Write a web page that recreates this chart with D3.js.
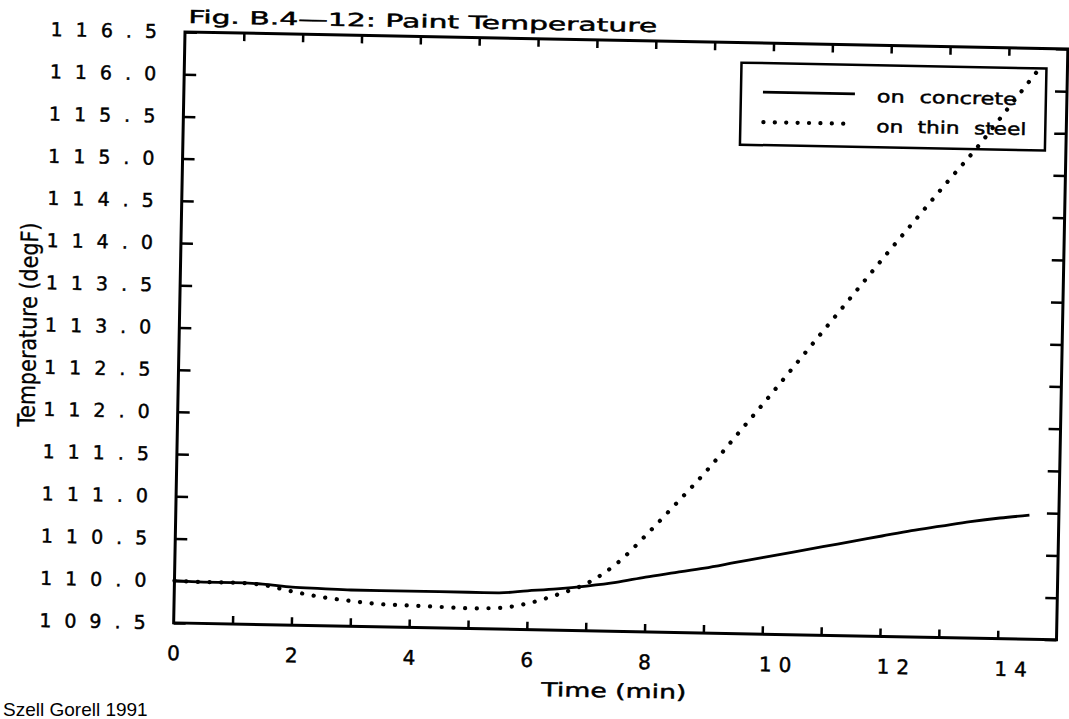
<!DOCTYPE html>
<html>
<head>
<meta charset="utf-8">
<script src="https://cdn.jsdelivr.net/npm/d3@7"></script>
<style>
    body { margin: 0; background: #fff; }
    svg { display: block; }
    text { font-family: "DejaVu Sans", sans-serif; fill: #000; }
    .plot-text { stroke: #000; stroke-width: 0.45px; }
</style>
</head>
<body>
<div id="chart"></div>
<script>

// Time in minutes, shared by both series
const timeMin = [0, 0.5, 1, 1.5, 2, 2.5, 3, 3.5, 4, 4.5, 5, 5.5, 6, 6.5, 7, 7.5,
    8, 8.5, 9, 9.5, 10, 10.5, 11, 11.5, 12, 12.5, 13, 13.5, 14, 14.5];

// Paint temperature on concrete (degF)
const concreteTemp = [110.00, 109.99, 109.99, 109.98, 109.95, 109.94, 109.93, 109.93, 109.93, 109.93,
    109.93, 109.93, 109.96, 109.99, 110.03, 110.08, 110.15, 110.21, 110.27, 110.34,
    110.41, 110.48, 110.55, 110.62, 110.69, 110.76, 110.82, 110.88, 110.93, 110.97];

// Paint temperature on thin steel (degF)
const steelTemp = [110.00, 109.99, 109.99, 109.97, 109.90, 109.84, 109.80, 109.77, 109.76, 109.75,
    109.74, 109.75, 109.81, 109.92, 110.06, 110.30, 110.65, 111.03, 111.42, 111.85,
    112.28, 112.72, 113.16, 113.60, 114.04, 114.47, 114.90, 115.32, 115.78, 116.24];

const yTicks = [109.5, 110.0, 110.5, 111.0, 111.5, 112.0, 112.5, 113.0, 113.5, 114.0, 114.5, 115.0, 115.5, 116.0, 116.5];
const xTicks = [0, 2, 4, 6, 8, 10, 12, 14];
const xMinorTicks = [1, 2, 3, 4, 5, 6, 7, 8, 9, 10, 11, 12, 13, 14];

const seriesNames = ["on concrete", "on thin steel"];

// the scan is a little tilted, so the whole plot is rotated a bit
const tilt = 1.1;
const margin = { top: 32, left: 185 };
const width = 883, height = 591;

const svg = d3.select("#chart").append("svg")
    .attr("width", 1069)
    .attr("height", 719);

const g = svg.append("g")
    .attr("transform", "translate(" + margin.left + "," + margin.top + ") rotate(" + tilt + ")");

// Scales
const x = d3.scaleLinear().domain([0, 15]).range([0, width]);
const y = d3.scaleLinear().domain([109.5, 116.5]).range([height, 0]);

// Lines
const line = d3.line()
    .x(d => x(d.t))
    .y(d => y(d.v))
    .curve(d3.curveMonotoneX);

const concreteData = timeMin.map((t, i) => ({ t: t, v: concreteTemp[i] }));
const steelData = timeMin.map((t, i) => ({ t: t, v: steelTemp[i] }));

g.append("path")
    .datum(steelData)
    .attr("fill", "none")
    .attr("stroke", "#000")
    .attr("stroke-width", 4.2)
    .attr("stroke-linecap", "round")
    .attr("stroke-dasharray", "0.1 11.6")
    .attr("d", line);

g.append("path")
    .datum(concreteData)
    .attr("fill", "none")
    .attr("stroke", "#000")
    .attr("stroke-width", 2.8)
    .attr("d", line);

// Axes (ticks point inward on all four sides)
const leftAxis = g.append("g")
    .call(d3.axisLeft(y).tickValues(yTicks).tickSizeInner(-12).tickSizeOuter(0).tickPadding(15)
        .tickFormat(d3.format(".1f")));

leftAxis.selectAll("text")
    .attr("class", "plot-text")
    .style("font-size", "19px")
    .style("letter-spacing", "13px");

g.append("g")
    .attr("transform", "translate(" + width + ",0)")
    .call(d3.axisRight(y).tickValues(yTicks).tickSizeInner(-12).tickSizeOuter(0).tickFormat(""));

g.append("g")
    .call(d3.axisTop(x).tickValues(xMinorTicks).tickSizeInner(-8).tickSizeOuter(0).tickFormat(""));

g.append("g")
    .attr("transform", "translate(0," + height + ")")
    .call(d3.axisBottom(x).tickValues(xMinorTicks).tickSizeInner(-8).tickSizeOuter(0).tickFormat(""));

const bottomLabels = g.append("g")
    .attr("transform", "translate(0," + height + ")")
    .call(d3.axisBottom(x).tickValues(xTicks).tickSize(0).tickPadding(23));

bottomLabels.selectAll("text")
    .attr("class", "plot-text")
    .style("font-size", "20px")
    .style("letter-spacing", "7px")
    .attr("dx", d => (String(d).length > 1 ? 13 : 0) + 3.5);

g.selectAll(".domain").remove();
g.selectAll(".tick line")
    .attr("stroke", "#000")
    .attr("stroke-width", 2.5);

// Frame
g.append("rect")
    .attr("width", width)
    .attr("height", height)
    .attr("fill", "none")
    .attr("stroke", "#000")
    .attr("stroke-width", 3);

// Titles
g.append("text")
    .attr("class", "plot-text")
    .attr("x", 3)
    .attr("y", -9)
    .attr("textLength", 469)
    .attr("lengthAdjust", "spacingAndGlyphs")
    .style("font-size", "18px")
    .text("Fig. B.4\u201412: Paint Temperature");

g.append("text")
    .attr("class", "plot-text")
    .attr("text-anchor", "middle")
    .attr("x", width / 2)
    .attr("y", height + 66)
    .attr("textLength", 145)
    .attr("lengthAdjust", "spacingAndGlyphs")
    .style("font-size", "19px")
    .text("Time  (min)");

g.append("text")
    .attr("class", "plot-text")
    .attr("text-anchor", "middle")
    .attr("transform", "translate(-143," + (height / 2) + ") rotate(-90)")
    .attr("textLength", 204)
    .attr("lengthAdjust", "spacingAndGlyphs")
    .style("font-family", "'Liberation Sans Narrow', 'DejaVu Sans Condensed', 'DejaVu Sans', sans-serif")
    .style("font-size", "24px")
    .style("stroke-width", "0.3px")
    .text("Temperature (degF)");

// Legend
const legend = g.append("g")
    .attr("transform", "translate(557,20)");

legend.append("rect")
    .attr("width", 305)
    .attr("height", 82)
    .attr("fill", "none")
    .attr("stroke", "#000")
    .attr("stroke-width", 2.5);

legend.append("line")
    .attr("x1", 22).attr("x2", 114)
    .attr("y1", 29).attr("y2", 29)
    .attr("stroke", "#000")
    .attr("stroke-width", 2.8);

legend.append("line")
    .attr("x1", 23).attr("x2", 114)
    .attr("y1", 59).attr("y2", 59)
    .attr("stroke", "#000")
    .attr("stroke-width", 4.2)
    .attr("stroke-linecap", "round")
    .attr("stroke-dasharray", "0.1 11.3");

legend.selectAll(".legend-label")
    .data(seriesNames)
    .enter().append("text")
    .attr("class", "legend-label plot-text")
    .attr("x", 136)
    .attr("y", (d, i) => 37 + i * 30)
    .attr("textLength", (d, i) => i === 0 ? 140 : 150)
    .attr("lengthAdjust", "spacingAndGlyphs")
    .style("font-size", "17px")
    .style("word-spacing", "6px")
    .text(d => d);

// Footer line of the scanned page (cut by the page edge in the scan)
svg.append("text")
    .attr("x", 3)
    .attr("y", 716)
    .style("font-family", "'Liberation Sans', Arial, sans-serif")
    .style("font-size", "19px")
    .text("Szell Gorell 1991");

</script>
</body>
</html>
